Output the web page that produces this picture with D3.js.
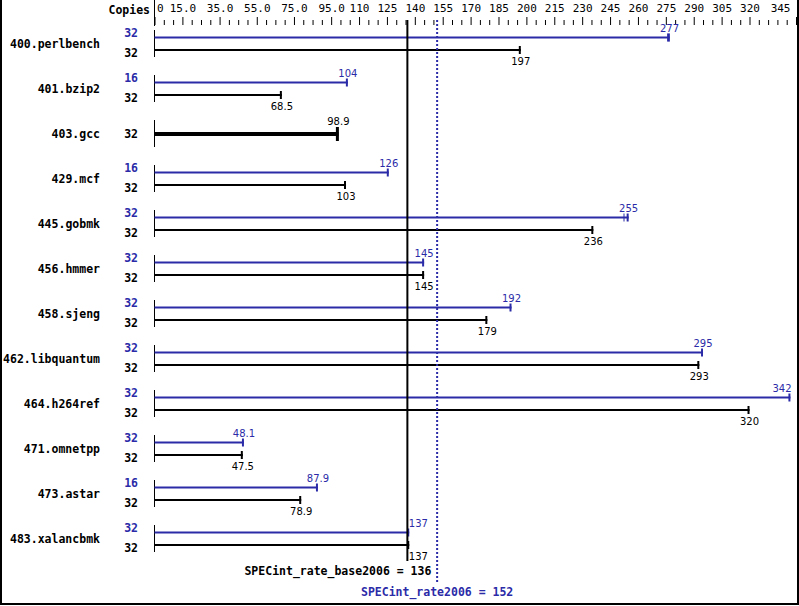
<!DOCTYPE html>
<html>
<head>
<meta charset="utf-8">
<script src="https://cdn.jsdelivr.net/npm/d3@7"></script>
<style>
html,body{margin:0;padding:0;background:#fff;}
svg{display:block;}
</style>
</head>
<body>
<script>
const benchmarks = ["400.perlbench","401.bzip2","403.gcc","429.mcf","445.gobmk","456.hmmer","458.sjeng","462.libquantum","464.h264ref","471.omnetpp","473.astar","483.xalancbmk"];
const peakValues = [277,104,98.9,126,255,145,192,295,342,48.1,87.9,137];
const baseValues = [197,68.5,98.9,103,236,145,179,293,320,47.5,78.9,137];
const peakCopies = [32,16,32,16,32,32,32,32,32,32,16,32];
const baseCopies = [32,32,32,32,32,32,32,32,32,32,32,32];
const peakLabels = ["277","104","98.9","126","255","145","192","295","342","48.1","87.9","137"];
const baseLabels = ["197","68.5","98.9","103","236","145","179","293","320","47.5","78.9","137"];
const peakExtraRuns = [[276,276.8],[],[],[],[252.5],[],[],[],[],[],[],[]];
const tickLabelValues = [0,15,35,55,75,95,110,125,140,155,170,185,200,215,230,245,260,275,290,305,320,345];
const tickLabelTexts = ["0","15.0","35.0","55.0","75.0","95.0","110","125","140","155","170","185","200","215","230","245","260","275","290","305","320","345"];
const baseScore = 136;
const peakScore = 152;

const W = 799, H = 606;
const BLUE = "#2b2ba8";
const mono = "'DejaVu Sans Mono', monospace";
const sans = "'DejaVu Sans', sans-serif";

const svg = d3.select("body").append("svg").attr("width", W).attr("height", H);

const x = d3.scaleLinear().domain([0, 345]).range([154.5, 796]);
const y = d3.scaleBand().domain(benchmarks).range([21.5, 561.5]);

// border (left, bottom, right)
svg.append("path").attr("d", `M1,0 V604 H798 V0`).attr("fill","none").attr("stroke","#000").attr("stroke-width",2);

// header
svg.append("text").attr("x",150).attr("y",14).attr("text-anchor","end")
  .attr("font-family",mono).attr("font-weight","bold").attr("font-size","11.5px").text("Copies");
svg.append("line").attr("x1",154.5).attr("x2",154.5).attr("y1",0).attr("y2",26).attr("stroke","#000").attr("stroke-width",1);

// axis
const allTicks = d3.range(0, 346, 5);
const axis = d3.axisTop(x).tickValues(allTicks).tickSizeOuter(0)
  .tickFormat(d => { const i = tickLabelValues.indexOf(d); return i >= 0 ? tickLabelTexts[i] : ""; });
const gAxis = svg.append("g").attr("transform","translate(0,25)").call(axis);
gAxis.select(".domain").remove();
gAxis.selectAll(".tick line").attr("y2", d => tickLabelValues.includes(d) ? -8 : -5).attr("stroke","#000");
gAxis.selectAll(".tick text").attr("y",-13).attr("dy",0)
  .attr("font-family",mono).attr("font-size","11px").attr("fill","#000")
  .attr("text-anchor", d => d === 0 ? "start" : (d === 345 ? "end" : "middle"))
  .attr("dx", d => d === 0 ? 2 : (d === 345 ? -6 : 0));

const bw = y.bandwidth();
const baseX = x(baseScore);

function labelX(v, text, fs) {
  const half = text.length * fs * 0.3;
  let cx = x(v);
  if (cx - half < baseX + 2 && cx + half > baseX - 2 && cx > baseX) cx = baseX + 2 + half;
  if (cx + half > W - 8) cx = W - 8 - half;
  return cx;
}

benchmarks.forEach((b, i) => {
  const g = svg.append("g");
  const cy = y(b) + bw / 2;
  const same = peakValues[i] === baseValues[i] && peakCopies[i] === baseCopies[i] && b === "403.gcc";
  g.append("text").attr("x",100).attr("y",cy+4).attr("text-anchor","end")
    .attr("font-family",mono).attr("font-weight","bold").attr("font-size","11.5px").text(b);
  g.append("line").attr("x1",x(0)).attr("x2",x(0)).attr("y1",cy-14).attr("y2",cy+13).attr("stroke","#000").attr("stroke-width",1);
  if (same) {
    g.append("text").attr("x",138).attr("y",cy+4).attr("text-anchor","end")
      .attr("font-family",mono).attr("font-weight","bold").attr("font-size","11.5px").text(baseCopies[i]);
    g.append("line").attr("x1",x(0)).attr("x2",x(baseValues[i])).attr("y1",cy).attr("y2",cy).attr("stroke","#000").attr("stroke-width",4);
    g.append("line").attr("x1",x(baseValues[i])-1).attr("x2",x(baseValues[i])-1).attr("y1",cy-7).attr("y2",cy+7).attr("stroke","#000").attr("stroke-width",3);
    g.append("text").attr("x",labelX(baseValues[i], baseLabels[i], 10)).attr("y",cy-9).attr("text-anchor","middle")
      .attr("font-family",sans).attr("font-size","10px").attr("fill","#000").text(baseLabels[i]);
    return;
  }
  const yp = cy - 6.5, yb = cy + 6;
  // copies
  g.append("text").attr("x",138).attr("y",yp-0.5).attr("text-anchor","end")
    .attr("font-family",mono).attr("font-weight","bold").attr("font-size","11.5px").attr("fill",BLUE).text(peakCopies[i]);
  g.append("text").attr("x",138).attr("y",yb+7).attr("text-anchor","end")
    .attr("font-family",mono).attr("font-weight","bold").attr("font-size","11.5px").attr("fill","#000").text(baseCopies[i]);
  // peak bar
  g.append("line").attr("x1",x(0)).attr("x2",x(peakValues[i])).attr("y1",yp).attr("y2",yp).attr("stroke",BLUE).attr("stroke-width",2);
  g.append("line").attr("x1",x(peakValues[i])-1).attr("x2",x(peakValues[i])-1).attr("y1",yp-4).attr("y2",yp+4).attr("stroke",BLUE).attr("stroke-width",2);
  peakExtraRuns[i].forEach(r => {
    g.append("line").attr("x1",x(r)).attr("x2",x(r)).attr("y1",yp-4).attr("y2",yp+4).attr("stroke",BLUE).attr("stroke-width",1);
  });
  g.append("text").attr("x",labelX(peakValues[i], peakLabels[i], 10)).attr("y",yp-6).attr("text-anchor","middle")
    .attr("font-family",sans).attr("font-size","10px").attr("fill",BLUE).text(peakLabels[i]);
  // base bar
  g.append("line").attr("x1",x(0)).attr("x2",x(baseValues[i])).attr("y1",yb).attr("y2",yb).attr("stroke","#000").attr("stroke-width",2);
  g.append("line").attr("x1",x(baseValues[i])-1).attr("x2",x(baseValues[i])-1).attr("y1",yb-4).attr("y2",yb+4).attr("stroke","#000").attr("stroke-width",2);
  g.append("text").attr("x",labelX(baseValues[i], baseLabels[i], 10)).attr("y",yb+15).attr("text-anchor","middle")
    .attr("font-family",sans).attr("font-size","10px").attr("fill","#000").text(baseLabels[i]);
});

// reference lines
svg.append("line").attr("x1",baseX).attr("x2",baseX).attr("y1",20).attr("y2",561).attr("stroke","#000").attr("stroke-width",2);
svg.append("line").attr("x1",x(peakScore)).attr("x2",x(peakScore)).attr("y1",20).attr("y2",583)
  .attr("stroke",BLUE).attr("stroke-width",2).attr("stroke-dasharray","2,2");

svg.append("text").attr("x",baseX+24).attr("y",575).attr("text-anchor","end")
  .attr("font-family",mono).attr("font-weight","bold").attr("font-size","11.5px").attr("fill","#000")
  .text("SPECint_rate_base2006 = " + baseScore);
svg.append("text").attr("x",x(peakScore)).attr("y",596).attr("text-anchor","middle")
  .attr("font-family",mono).attr("font-weight","bold").attr("font-size","11.5px").attr("fill",BLUE)
  .text("SPECint_rate2006 = " + peakScore);
</script>
</body>
</html>
